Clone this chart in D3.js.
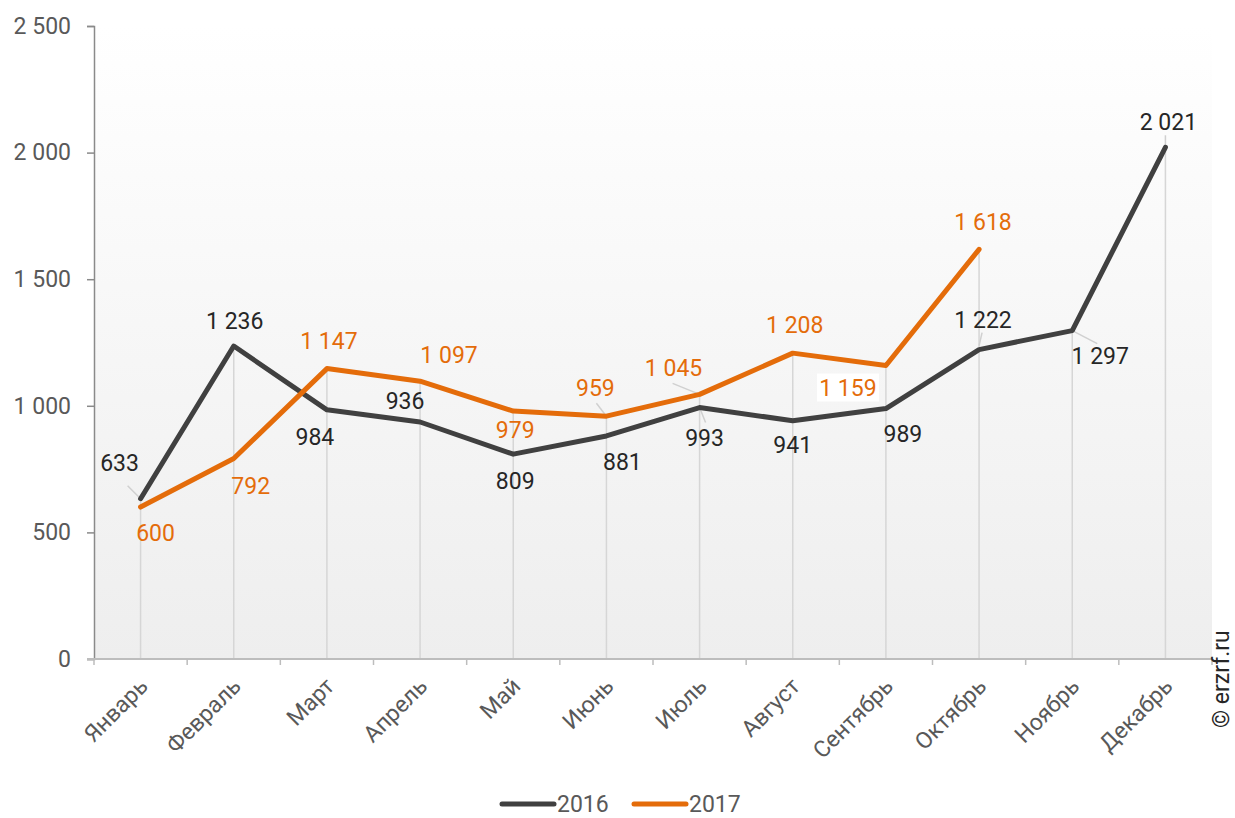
<!DOCTYPE html>
<html>
<head>
<meta charset="utf-8">
<script src="https://cdn.jsdelivr.net/npm/d3@7"></script>
<style>
  html, body { margin: 0; padding: 0; background: #fff; }
  svg { display: block; font-family: Roboto, "Noto Sans", sans-serif; }
</style>
</head>
<body>
<svg id="chart" width="1235" height="818"></svg>
<script>
// Monthly values, 2016 vs 2017
const months = ["Январь", "Февраль", "Март", "Апрель", "Май", "Июнь", "Июль", "Август", "Сентябрь", "Октябрь", "Ноябрь", "Декабрь"];
const values2016 = [633, 1236, 984, 936, 809, 881, 993, 941, 989, 1222, 1297, 2021];
const values2017 = [600, 792, 1147, 1097, 979, 959, 1045, 1208, 1159, 1618];
const yTicks = [0, 500, 1000, 1500, 2000, 2500];
const seriesNames = ["2016", "2017"];

// Label placement offsets (px) relative to each point
const labelOffsets2016 = [[-21,-36],[1,-25],[-12,27],[-15,-21],[2,27],[16,26],[5,30],[0,24],[17,25],[4,-30],[28,25],[3,-25]];
const labelOffsets2017 = [[15,26],[17,27],[2,-28],[29,-26],[2,19],[-11,-28],[-26,-26],[2,-28],[-38,22],[4,-27]];

const colors = { s2016: "#404040", s2017: "#E46C0A" };
const FS = "23px";
const fmt = v => d3.format(",")(v).replace(/,/g, " ");

const svg = d3.select("#chart");
const margin = { left: 94, right: 23, top: 26, bottom: 159 };
const W = 1235, H = 818;
const x0 = margin.left, x1 = W - margin.right, y0 = H - margin.bottom, y1 = margin.top;

const x = d3.scaleBand().domain(months).range([x0, x1]).paddingInner(0).paddingOuter(0);
const y = d3.scaleLinear().domain([0, 2500]).range([y0, y1]);
const cx = m => x(m) + x.bandwidth() / 2;

// Plot background gradient
const defs = svg.append("defs");
const grad = defs.append("linearGradient").attr("id", "bg").attr("x1", 0).attr("y1", 0).attr("x2", 0).attr("y2", 1);
grad.append("stop").attr("offset", "0%").attr("stop-color", "#ffffff");
grad.append("stop").attr("offset", "100%").attr("stop-color", "#eeeeee");
svg.append("rect").attr("x", x0).attr("y", y1).attr("width", x1 - x0).attr("height", y0 - y1).attr("fill", "url(#bg)");

// Drop lines from the highest point of each month to the axis
svg.append("g").selectAll("line").data(months).join("line")
  .attr("x1", m => cx(m)).attr("x2", m => cx(m))
  .attr("y1", (m, i) => y(Math.max(values2016[i], values2017[i] ?? 0)))
  .attr("y2", y0)
  .attr("stroke", "#d6d6d6").attr("stroke-width", 1.5);

// Y axis
const yAxis = svg.append("g").attr("transform", `translate(${x0},0)`)
  .call(d3.axisLeft(y).tickValues(yTicks).tickSize(7).tickPadding(16).tickFormat(fmt));
yAxis.select(".domain").attr("stroke", "#8a8a8a").attr("stroke-width", 1.5);
yAxis.selectAll(".tick line").attr("stroke", "#8a8a8a").attr("stroke-width", 1.5);
yAxis.selectAll(".tick text").attr("fill", "#595959").style("font-size", FS)
  .style("font-family", "Roboto, sans-serif");

// X axis with ticks at band boundaries
const xAxisG = svg.append("g");
xAxisG.append("line").attr("x1", x0 - 7).attr("x2", x1).attr("y1", y0).attr("y2", y0)
  .attr("stroke", "#bdbdbd").attr("stroke-width", 2);
const bounds = months.map(m => x(m)).concat([x1]);
xAxisG.selectAll("line.tk").data(bounds).join("line").attr("class", "tk")
  .attr("x1", d => d).attr("x2", d => d).attr("y1", y0).attr("y2", y0 + 6)
  .attr("stroke", "#bdbdbd").attr("stroke-width", 1.5);
xAxisG.selectAll("text").data(months).join("text")
  .attr("transform", m => `translate(${cx(m) + 3},${y0 + 23}) rotate(-45)`)
  .attr("text-anchor", "end").attr("dy", "0.35em")
  .attr("fill", "#595959").style("font-size", FS)
  .text(m => m);

// Leader lines from labels to points
const leaders = [
  { s: values2016, i: 0, a: [-13, -13], b: [0, 0] },
  { s: values2017, i: 6, a: [-27, -11], b: [0, 0] },
  { s: values2016, i: 6, a: [0, 0], b: [6, 15] },
  { s: values2017, i: 5, a: [-10, -13], b: [0, 0] },
  { s: values2016, i: 10, a: [0, 0], b: [25, 13] },
  { s: values2016, i: 9, a: [0, -4], b: [3, -17] },
  { s: values2016, i: 11, a: [0, 0], b: [0, -12] }
];
svg.append("g").selectAll("line").data(leaders).join("line")
  .attr("x1", d => cx(months[d.i]) + d.a[0]).attr("y1", d => y(d.s[d.i]) + d.a[1])
  .attr("x2", d => cx(months[d.i]) + d.b[0]).attr("y2", d => y(d.s[d.i]) + d.b[1])
  .attr("stroke", "#d0d0d0").attr("stroke-width", 1.5);

// Lines
const line = d3.line().x((d, i) => cx(months[i])).y(d => y(d));
svg.append("path").datum(values2016).attr("d", line)
  .attr("fill", "none").attr("stroke", colors.s2016).attr("stroke-width", 5).attr("stroke-linejoin", "round").attr("stroke-linecap", "round");
svg.append("path").datum(values2017).attr("d", line)
  .attr("fill", "none").attr("stroke", colors.s2017).attr("stroke-width", 5).attr("stroke-linejoin", "round").attr("stroke-linecap", "round");

// Data labels
function drawLabels(vals, offs, color, boxed) {
  const g = svg.append("g");
  vals.forEach((v, i) => {
    const px = cx(months[i]) + offs[i][0];
    const py = y(v) + offs[i][1];
    if (boxed.includes(i)) {
      g.append("rect").attr("x", px - 31).attr("y", py - 14).attr("width", 62).attr("height", 28).attr("fill", "#fff");
    }
    g.append("text").attr("x", px).attr("y", py).attr("dy", "0.35em")
      .attr("text-anchor", "middle").attr("fill", color).style("font-size", FS)
      .text(fmt(v));
  });
}
drawLabels(values2016, labelOffsets2016, "#262626", []);
drawLabels(values2017, labelOffsets2017, colors.s2017, [8]);

// Legend
const legend = svg.append("g").attr("transform", "translate(0,804)");
const items = [
  { name: seriesNames[0], color: colors.s2016, x: 502 },
  { name: seriesNames[1], color: colors.s2017, x: 634 }
];
items.forEach(it => {
  legend.append("line").attr("x1", it.x).attr("x2", it.x + 52).attr("y1", 0).attr("y2", 0)
    .attr("stroke", it.color).attr("stroke-width", 5).attr("stroke-linecap", "round");
  legend.append("text").attr("x", it.x + 55).attr("y", 0).attr("dy", "0.35em")
    .attr("fill", "#595959").style("font-size", FS).text(it.name);
});

// Copyright
svg.append("text").attr("transform", "translate(1229,728) rotate(-90)")
  .attr("text-anchor", "start").attr("fill", "#262626").style("font-size", FS)
  .text("© erzrf.ru");
</script>
</body>
</html>
